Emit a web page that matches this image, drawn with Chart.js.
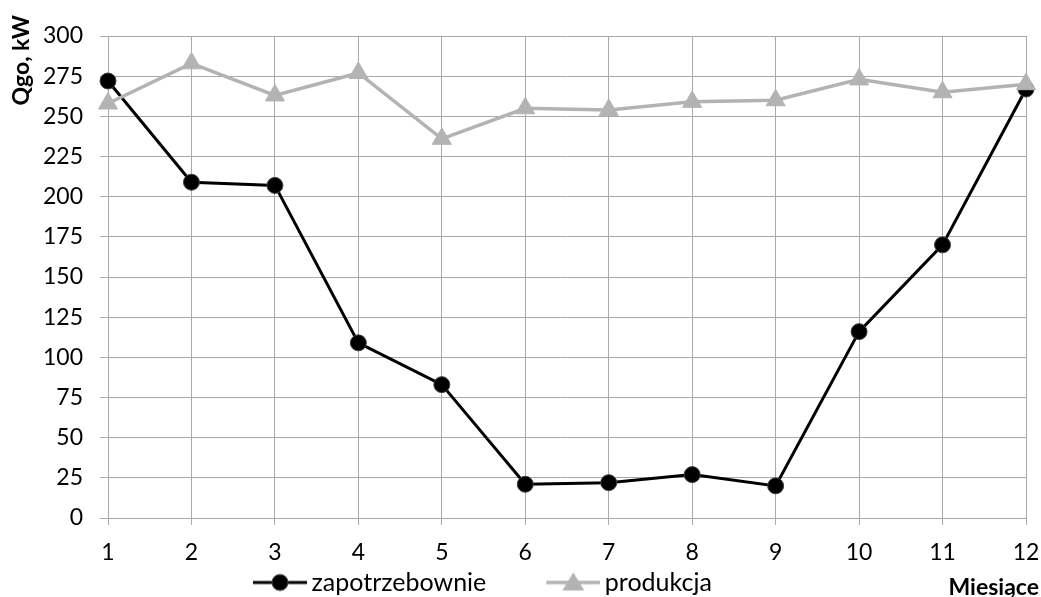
<!DOCTYPE html>
<html>
<head>
<meta charset="utf-8">
<script src="https://cdn.jsdelivr.net/npm/chart.js@4.4.1/dist/chart.umd.min.js"></script>
<style>
  html, body { margin: 0; padding: 0; background: #ffffff; }
  #wrap { width: 1041px; height: 597px; position: relative; }
</style>
</head>
<body>
<div id="wrap"><canvas id="chart" width="1041" height="597"></canvas></div>
<script>
// Monthly heat demand vs. production
const months = ['1', '2', '3', '4', '5', '6', '7', '8', '9', '10', '11', '12'];
const zapotrzebownie = [272, 209, 207, 109, 83, 21, 22, 27, 20, 116, 170, 267];
const produkcja = [258, 283, 263, 277, 236, 255, 254, 259, 260, 273, 265, 270];
const yTicks = [0, 25, 50, 75, 100, 125, 150, 175, 200, 225, 250, 275, 300];

const FONT = 'Lato, "Open Sans", sans-serif';
const FS = 23;
const LEGEND_FS = 25;
const BLACK = '#000000';
const GREY = '#b3b3b3';
const GRID = '#a9a9a9';

// Legend swatch: blank lead-in, then a short line with the series marker in its middle
const SW_W = 96;
function swatch(color, marker) {
  const c = document.createElement('canvas');
  c.width = 112; c.height = 24;
  const g = c.getContext('2d');
  const x0 = 58, x1 = 112, cx = (x0 + x1) / 2, cy = 12;
  g.strokeStyle = color; g.lineWidth = marker === 'circle' ? 3 : 3.5;
  g.beginPath(); g.moveTo(x0, cy); g.lineTo(x1, cy); g.stroke();
  g.fillStyle = color;
  if (marker === 'circle') {
    g.beginPath(); g.arc(cx, cy, 8, 0, Math.PI * 2); g.fill();
    g.strokeStyle = '#404040'; g.lineWidth = 1; g.stroke();
  } else {
    g.beginPath(); g.moveTo(cx, cy - 10); g.lineTo(cx + 11, cy + 8); g.lineTo(cx - 11, cy + 8); g.closePath(); g.fill();
  }
  return c;
}

// Axis titles, legend offset and room for the month labels
const axisTitles = {
  id: 'axisTitles',
  afterLayout(chart) {
    const lg = chart.legend;
    if (lg) {
      lg.left = 193;
      lg.top += 8; lg.bottom += 8;
    }
    chart.scales.x.bottom = 597;
  },
  afterDraw(chart) {
    const ctx = chart.ctx;
    ctx.save();
    ctx.fillStyle = '#000';
    ctx.font = 'bold ' + FS + 'px ' + FONT;
    ctx.textAlign = 'right';
    ctx.textBaseline = 'middle';
    ctx.fillText('Miesiące', 1039, 588);
    ctx.translate(22, 15);
    ctx.rotate(-Math.PI / 2);
    ctx.textAlign = 'right';
    ctx.fillText('Qgo, kW', 0, 0);
    ctx.restore();
  }
};

new Chart(document.getElementById('chart'), {
  type: 'line',
  data: {
    labels: months,
    datasets: [
      {
        label: 'zapotrzebownie',
        data: zapotrzebownie,
        borderColor: BLACK,
        backgroundColor: BLACK,
        borderWidth: 3,
        pointStyle: 'circle',
        pointRadius: 8,
        pointHoverRadius: 8,
        pointBorderColor: '#404040',
        pointBorderWidth: 1,
        pointBackgroundColor: BLACK,
        tension: 0,
        order: 1
      },
      {
        label: 'produkcja',
        data: produkcja,
        borderColor: GREY,
        backgroundColor: GREY,
        borderWidth: 3.5,
        pointStyle: 'triangle',
        pointRadius: 11,
        pointHoverRadius: 11,
        pointBorderColor: GREY,
        pointBorderWidth: 1,
        pointBackgroundColor: GREY,
        tension: 0,
        order: 0
      }
    ]
  },
  options: {
    responsive: false,
    animation: false,
    events: [],
    layout: { padding: { left: 0, right: 15, top: 36, bottom: 0 } },
    scales: {
      x: {
        type: 'category',
        offset: false,
        grid: { color: GRID, lineWidth: 1, tickLength: 7, tickColor: GRID },
        border: { color: GRID, width: 1 },
        ticks: { color: '#000', font: { family: FONT, size: FS }, padding: 14, maxRotation: 0, autoSkip: false },
        afterFit(scale) { scale.height = 34; scale.paddingRight = 0; scale.paddingLeft = 0; }
      },
      y: {
        min: 0,
        max: 300,
        afterBuildTicks(scale) { scale.ticks = yTicks.map(v => ({ value: v })); },
        grid: { color: GRID, lineWidth: 1, tickLength: 8, tickColor: GRID },
        border: { color: GRID, width: 1 },
        ticks: { color: '#000', font: { family: FONT, size: FS }, padding: 17 },
        afterFit(scale) { scale.width = 108; }
      }
    },
    plugins: {
      legend: {
        position: 'bottom',
        align: 'start',
        labels: {
          usePointStyle: true,
          pointStyleWidth: SW_W,
          color: '#000',
          font: { family: FONT, size: LEGEND_FS },
          padding: 10,
          generateLabels(chart) {
            return chart.data.datasets.map((ds, i) => ({
              text: ds.label,
              pointStyle: swatch(ds.borderColor, ds.pointStyle),
              fillStyle: ds.borderColor,
              strokeStyle: ds.borderColor,
              lineWidth: 0,
              hidden: false,
              datasetIndex: i,
              fontColor: '#000'
            }));
          }
        }
      },
      tooltip: { enabled: false }
    }
  },
  plugins: [axisTitles]
});
</script>
</body>
</html>
